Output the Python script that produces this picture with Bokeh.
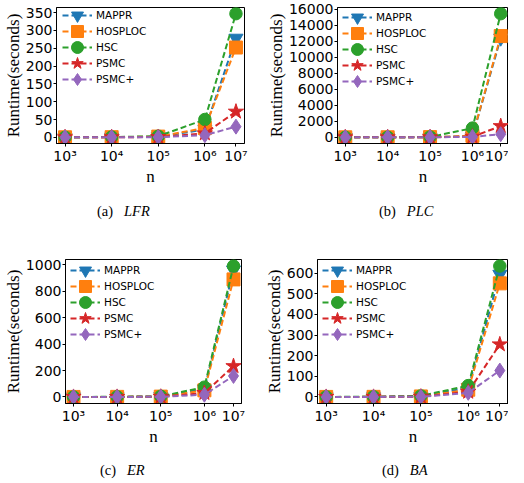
from bokeh.plotting import figure
from bokeh.layouts import column, row
from bokeh.models import Div, FixedTicker, Range1d, Legend, LegendItem, Spacer
from bokeh.embed import file_html
from bokeh.resources import INLINE

# ---------------- data ----------------
n_pos = [3, 4, 5, 6, 6.667]          # log10(n) positions of the five graph sizes
n_labels = ["10³", "10⁴", "10⁵", "10⁶", "10⁷"]

methods = ["MAPPR", "HOSPLOC", "HSC", "PSMC", "PSMC+"]
colors = ["#1f77b4", "#ff7f0e", "#2ca02c", "#d62728", "#9467bd"]
markers = ["inverted_triangle", "square", "circle", "star", "diamond"]
marker_sizes = [14, 13, 12.5, 16, 15]

# (a) LFR
lfr_mappr = [0.1, 0.5, 1.5, 22, 278]
lfr_hosploc = [0.1, 0.4, 2.0, 26, 252]
lfr_hsc = [0.2, 0.8, 3.0, 50, 347]
lfr_psmc = [0.05, 0.2, 0.8, 11, 72]
lfr_psmcp = [0.03, 0.1, 0.5, 6, 30]
lfr_yticks = [0, 50, 100, 150, 200, 250, 300, 350]

# (b) PLC
plc_mappr = [1, 5, 20, 150, 12400]
plc_hosploc = [1, 5, 25, 180, 12650]
plc_hsc = [2, 8, 40, 1150, 15450]
plc_psmc = [0.5, 2, 8, 80, 1400]
plc_psmcp = [0.3, 1, 5, 50, 390]
plc_yticks = [0, 2000, 4000, 6000, 8000, 10000, 12000, 14000, 16000]

# (c) ER
er_mappr = [0.1, 0.5, 3, 60, 960]
er_hosploc = [0.1, 0.5, 2.5, 50, 889]
er_hsc = [0.2, 1, 5, 74, 990]
er_psmc = [0.05, 0.3, 1.5, 30, 233]
er_psmcp = [0.03, 0.2, 1, 17, 159]
er_yticks = [0, 200, 400, 600, 800, 1000]

# (d) BA
ba_mappr = [0.1, 0.5, 3, 45, 595]
ba_hosploc = [0.1, 0.5, 2.5, 35, 551]
ba_hsc = [0.2, 1, 5, 55, 635]
ba_psmc = [0.05, 0.3, 1.5, 25, 255]
ba_psmcp = [0.03, 0.2, 1, 20, 128]
ba_yticks = [0, 100, 200, 300, 400, 500, 600]

TICK_FONT = "DejaVu Sans"
SERIF = "Liberation Serif"
ROW_STEP = 16      # legend row pitch (px)
GLYPH_W, GLYPH_H = 30, 32


def make_panel(series, yticks, w, h, bl, br, bt, bb, leg_dx, leg_dy):
    span = n_pos[-1] - n_pos[0]
    ymax = max(max(s) for s in series)
    p = figure(width=w, height=h, output_backend="svg", toolbar_location=None,
               x_range=Range1d(n_pos[0] - 0.05 * span, n_pos[-1] + 0.05 * span),
               y_range=Range1d(-0.05 * ymax, 1.05 * ymax),
               min_border_left=bl, min_border_right=br,
               min_border_top=bt, min_border_bottom=bb)
    p.background_fill_color = "white"
    p.border_fill_color = "white"
    p.outline_line_color = "black"
    p.outline_line_width = 1
    p.xgrid.visible = False
    p.ygrid.visible = False

    rends = []
    for vals, name, col, mk, ms in zip(series, methods, colors, markers, marker_sizes):
        lr = p.line(n_pos, vals, line_color=col, line_width=2, line_dash="6 3")
        sr = p.scatter(n_pos, vals, marker=mk, size=ms, fill_color=col, line_color=col)
        rends.append((name, lr, sr))

    p.xaxis.ticker = FixedTicker(ticks=n_pos)
    p.xaxis.major_label_overrides = {t: l for t, l in zip(n_pos, n_labels)}
    p.yaxis.ticker = FixedTicker(ticks=yticks)
    for ax in (p.xaxis[0], p.yaxis[0]):
        ax.major_label_text_font = TICK_FONT
        ax.major_label_text_font_size = "14px"
        ax.major_label_text_color = "black"
        ax.axis_line_color = "black"
        ax.major_tick_line_color = "black"
        ax.major_tick_out = 3
        ax.major_tick_in = 0
        ax.minor_tick_line_color = None
        ax.major_label_standoff = 1
        ax.axis_label_text_font = SERIF
        ax.axis_label_text_font_size = "17px"
        ax.axis_label_text_font_style = "normal"
        ax.axis_label_text_color = "black"
        ax.axis_label_standoff = 0
    p.xaxis.axis_label = "n"
    p.yaxis.axis_label = "Runtime(seconds)"

    # one single-entry legend per method, stacked at a 16 px pitch
    frame_h = h - bt - bb
    for i, (name, lr, sr) in enumerate(rends):
        top_off = leg_dy + ROW_STEP * i - GLYPH_H // 2
        lg = Legend(items=[LegendItem(label=name, renderers=[lr, sr])],
                    location=(leg_dx - GLYPH_W // 2, frame_h - top_off - GLYPH_H),
                    border_line_alpha=0, background_fill_alpha=0,
                    glyph_width=GLYPH_W, glyph_height=GLYPH_H,
                    spacing=0, padding=0, margin=0, label_standoff=4,
                    label_text_font=TICK_FONT, label_text_font_size="10.5px",
                    label_text_color="black")
        p.add_layout(lg)
    return p


def caption(tag, name, lead, w, h, line_h):
    d = Div(text="%s&nbsp;&nbsp;&nbsp;<i>%s</i>" % (tag, name),
            width=w - lead, height=h,
            styles={"font-family": SERIF, "font-size": "14.5px", "color": "black",
                    "line-height": "%dpx" % line_h, "white-space": "nowrap",
                    "text-align": "left"})
    return row(Spacer(width=lead, height=h), d)


pa = make_panel([lfr_mappr, lfr_hosploc, lfr_hsc, lfr_psmc, lfr_psmcp], lfr_yticks,
                254, 188, 46, 10, 7, 43, 21, 10)
pb = make_panel([plc_mappr, plc_hosploc, plc_hsc, plc_psmc, plc_psmcp], plc_yticks,
                254, 188, 83, 0, 7, 43, 20, 12)
pc = make_panel([er_mappr, er_hosploc, er_hsc, er_psmc, er_psmcp], er_yticks,
                254, 218, 52, 13, 29, 42, 20, 14)
pd_ = make_panel([ba_mappr, ba_hosploc, ba_hsc, ba_psmc, ba_psmcp], ba_yticks,
                 254, 218, 63, 0, 29, 42, 20, 14)

cap_a = caption("(a)", "LFR", 92, 254, 32, 36)
cap_b = caption("(b)", "PLC", 110, 254, 32, 36)
cap_c = caption("(c)", "ER", 95, 254, 29, 34)
cap_d = caption("(d)", "BA", 113, 254, 29, 34)

layout = column(row(pa, pb), row(cap_a, cap_b), row(pc, pd_), row(cap_c, cap_d))

open("out.html", "w").write(file_html(layout, INLINE))
